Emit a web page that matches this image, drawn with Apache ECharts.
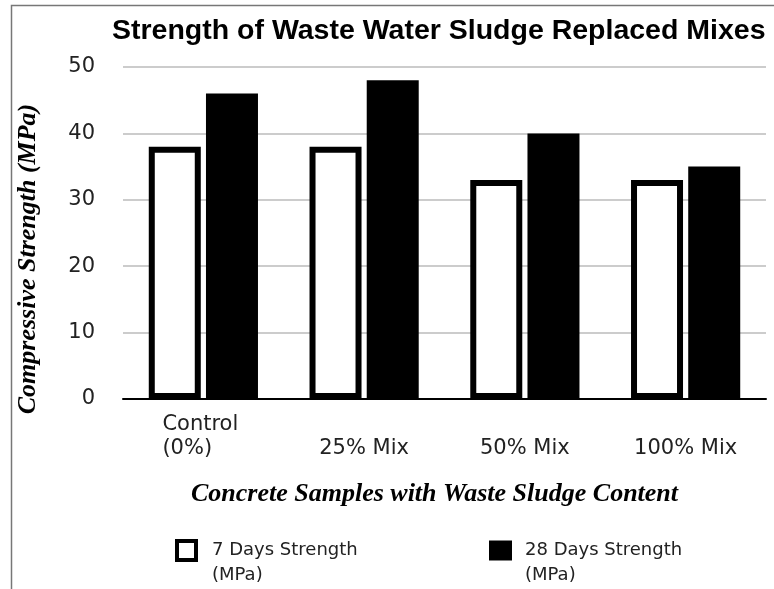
<!DOCTYPE html>
<html>
<head>
<meta charset="utf-8">
<script src="https://cdn.jsdelivr.net/npm/echarts@6/dist/echarts.min.js"></script>
<style>
  html, body { margin: 0; padding: 0; background: #fff; }
  #chart { width: 774px; height: 589px; }
</style>
</head>
<body>
<div id="chart"></div>
<script>
var categories = ['Control (0%)', '25% Mix', '50% Mix', '100% Mix'];
var strength7 = [38, 38, 33, 33];
var strength28 = [46, 48, 40, 35];
var seriesNames = ['7 Days Strength\n(MPa)', '28 Days Strength\n(MPa)'];

var sans = '"Liberation Sans", Arial, Helvetica, sans-serif';
var label = '"DejaVu Sans", "Liberation Sans", sans-serif';
var serif = '"Liberation Serif", "Times New Roman", serif';

var myChart = echarts.init(document.getElementById('chart'));

function legendText(padLeft) {
    return {fontFamily: label, fontSize: 18, color: '#222', lineHeight: 25, padding: [0, 0, 0, padLeft]};
}

myChart.setOption({
    animation: false,
    title: {
        text: 'Strength of Waste Water Sludge Replaced Mixes',
        left: 112, top: 17, padding: 0,
        textStyle: {fontFamily: sans, fontSize: 28.5, fontWeight: 'bold', color: '#000'}
    },
    graphic: [{
        type: 'polyline',
        shape: {points: [[11.5, 589], [11.5, 5.5], [774, 5.5]]},
        style: {stroke: '#777', lineWidth: 1.5, fill: null}
    }],
    legend: [{
        data: [{name: seriesNames[0], itemStyle: {borderWidth: 4}}],
        left: 175, top: 513, padding: 0,
        itemWidth: 19, itemHeight: 19,
        icon: 'rect',
        formatter: function (n) { return '\n' + n; },
        textStyle: legendText(11),
        selectedMode: false
    }, {
        data: [seriesNames[1]],
        left: 489, top: 513, padding: 0,
        itemWidth: 23, itemHeight: 20,
        icon: 'rect',
        formatter: function (n) { return '\n' + n; },
        textStyle: legendText(8),
        selectedMode: false
    }],
    grid: {left: 123, right: 8, top: 67, bottom: 190},
    xAxis: {
        type: 'category',
        data: categories,
        axisLine: {lineStyle: {color: '#000', width: 2}},
        axisTick: {show: false},
        axisLabel: {
            interval: 0,
            verticalAlign: 'bottom',
            margin: 62,
            fontFamily: label, fontSize: 21, color: '#222', lineHeight: 24,
            formatter: function (v, i) {
                if (i === 0) return '{l|Control}\n{l|(0%)}';
                return v;
            },
            rich: {
                l: {width: 82, align: 'left', fontFamily: label, fontSize: 21, color: '#222', lineHeight: 24}
            }
        },
        name: 'Concrete Samples with Waste Sludge Content',
        nameLocation: 'middle',
        nameGap: 82,
        nameTextStyle: {
            fontFamily: serif, fontSize: 26, fontWeight: 'bold', fontStyle: 'italic', color: '#000',
            padding: [0, 20, 0, 0]
        }
    },
    yAxis: {
        type: 'value',
        min: 0, max: 50, interval: 10,
        axisLine: {show: false},
        axisTick: {show: false},
        splitLine: {lineStyle: {color: '#bbb', width: 1.5}},
        axisLabel: {margin: 28, fontFamily: label, fontSize: 21, color: '#222'},
        name: 'Compressive Strength (MPa)',
        nameLocation: 'middle',
        nameGap: 82,
        nameTextStyle: {
            fontFamily: serif, fontSize: 26, fontWeight: 'bold', fontStyle: 'italic', color: '#000',
            padding: [0, 52, 0, 0]
        }
    },
    series: [{
        name: seriesNames[0],
        type: 'bar',
        data: strength7,
        barWidth: 52,
        barGap: '10%',
        itemStyle: {color: '#fff', borderColor: '#000', borderWidth: 6}
    }, {
        name: seriesNames[1],
        type: 'bar',
        data: strength28,
        barWidth: 52,
        itemStyle: {color: '#000'}
    }]
});
</script>
</body>
</html>
